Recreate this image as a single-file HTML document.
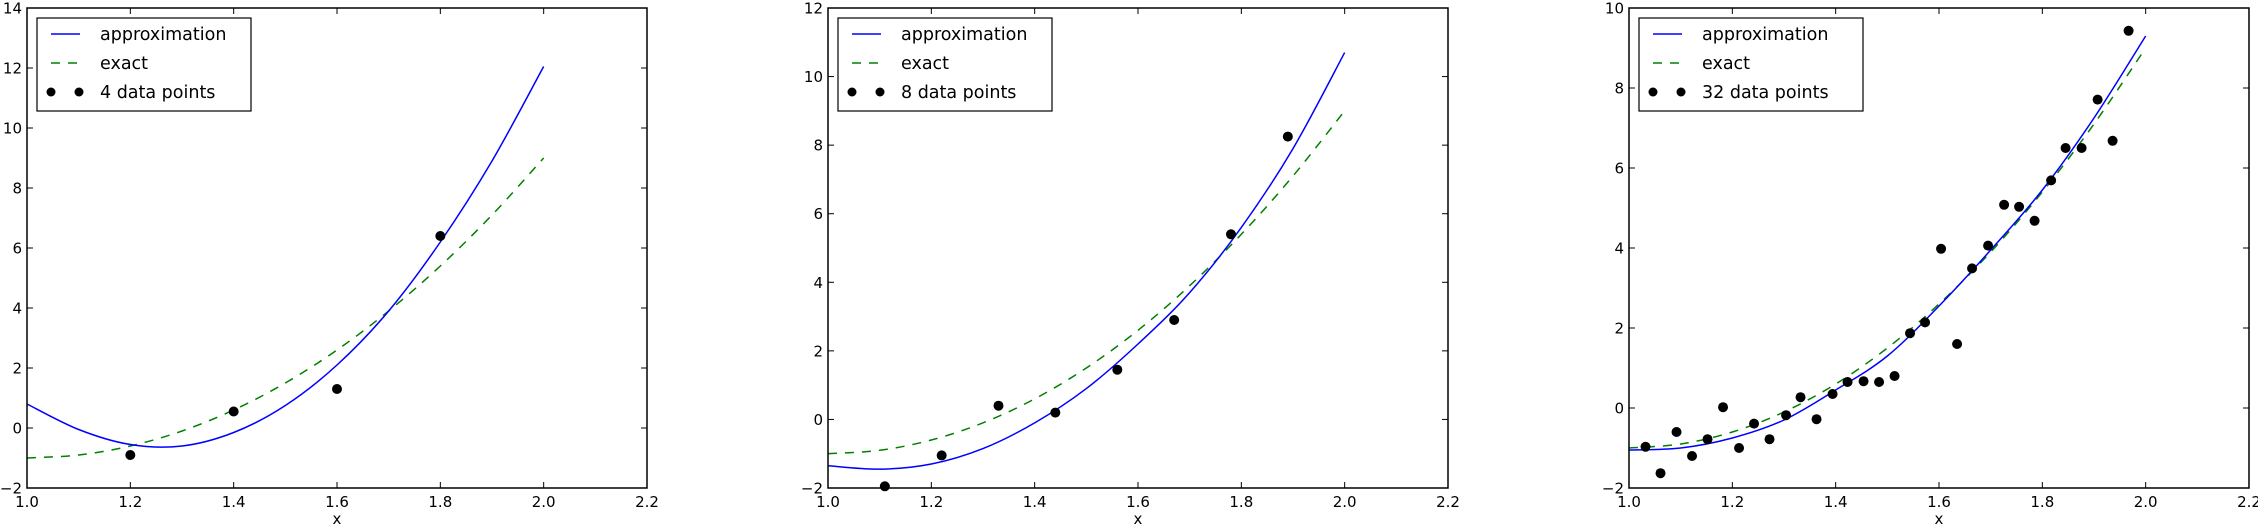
<!DOCTYPE html>
<html><head><meta charset="utf-8"><style>
html,body{margin:0;padding:0;background:#fff;}
svg{display:block;font-family:"DejaVu Sans","Liberation Sans",sans-serif;}
</style></head><body>
<svg id="chart" width="2258" height="528" xmlns="http://www.w3.org/2000/svg"></svg>
<script>
const curveX = [1.0,1.1,1.2,1.3,1.4,1.5,1.6,1.7,1.8,1.9,2.0];
const exactY = [-1,-0.9,-0.6,-0.1,0.6,1.5,2.6,3.9,5.4,7.1,9.0];
const approx1 = [0.8,-0.05,-0.55,-0.6,-0.15,0.75,2.1,3.9,6.2,8.9,12.05];
const approx2 = [-1.35,-1.45,-1.3,-0.85,-0.1,0.9,2.2,3.7,5.6,7.9,10.7];
const approx3 = [-1.05,-1.0,-0.75,-0.3,0.45,1.3,2.55,3.95,5.45,7.25,9.3];
const pts1X = [1.2,1.4,1.6,1.8];
const pts1Y = [-0.9,0.55,1.3,6.4];
const pts2X = [1.11,1.22,1.33,1.44,1.56,1.67,1.78,1.89];
const pts2Y = [-1.95,-1.05,0.4,0.2,1.45,2.9,5.4,8.25];
const pts3X = [1.032,1.061,1.092,1.122,1.152,1.182,1.213,1.242,1.272,1.304,1.332,1.363,1.394,1.423,1.454,1.484,1.514,1.544,1.573,1.604,1.635,1.664,1.695,1.726,1.755,1.785,1.817,1.845,1.876,1.907,1.936,1.967];
const pts3Y = [-0.97,-1.63,-0.6,-1.2,-0.78,0.02,-1.0,-0.39,-0.78,-0.18,0.27,-0.28,0.35,0.65,0.67,0.65,0.8,1.87,2.14,3.98,1.6,3.49,4.06,5.08,5.03,4.68,5.69,6.5,6.5,7.71,6.68,9.43];
const xTicks = [1.0,1.2,1.4,1.6,1.8,2.0,2.2];
const yTicks1 = [-2,0,2,4,6,8,10,12,14];
const yTicks2 = [-2,0,2,4,6,8,10,12];
const yTicks3 = [-2,0,2,4,6,8,10];

const NS="http://www.w3.org/2000/svg";
const svg=document.getElementById('chart');
function mk(tag,attrs,parent){const e=document.createElementNS(NS,tag);for(const k in attrs)e.setAttribute(k,attrs[k]);(parent||svg).appendChild(e);return e;}
function smooth(p){let d='M'+p[0][0]+','+p[0][1];for(let i=0;i<p.length-1;i++){const p0=p[i-1]||p[i],p1=p[i],p2=p[i+1],p3=p[i+2]||p2;
const c1x=p1[0]+(p2[0]-p0[0])/6,c1y=p1[1]+(p2[1]-p0[1])/6,c2x=p2[0]-(p3[0]-p1[0])/6,c2y=p2[1]-(p3[1]-p1[1])/6;
d+=' C'+c1x+','+c1y+' '+c2x+','+c2y+' '+p2[0]+','+p2[1];}return d;}

const panels=[
 {left:27,ymin:-2,ymax:14,yt:yTicks1,ap:approx1,px:pts1X,py:pts1Y,label:'4 data points',lw:214},
 {left:828,ymin:-2,ymax:12,yt:yTicks2,ap:approx2,px:pts2X,py:pts2Y,label:'8 data points',lw:214},
 {left:1629,ymin:-2,ymax:10,yt:yTicks3,ap:approx3,px:pts3X,py:pts3Y,label:'32 data points',lw:224}
];
const W=620,TOP=8,H=480;
panels.forEach((P,pi)=>{
 const g=mk('g',{});
 
 
 const sx=v=>P.left+(v-1.0)/1.2*W;
 const sy=v=>TOP+(P.ymax-v)/(P.ymax-P.ymin)*H;
 const ex=mk('path',{d:smooth(curveX.map((x,i)=>[sx(x),sy(exactY[i])])),fill:'none',stroke:'#008000','stroke-width':1.5,'stroke-dasharray':'9,8'},g);
 
 
 const ap=mk('path',{d:smooth(curveX.map((x,i)=>[sx(x),sy(P.ap[i])])),fill:'none',stroke:'#0000ff','stroke-width':1.5},g);
 
 
 P.px.forEach((x,i)=>{
  const c=mk('circle',{cx:sx(x),cy:sy(P.py[i]),r:5,fill:'#000'},g);
  
  
 });
 const fr=mk('rect',{x:P.left,y:TOP,width:W,height:H,fill:'none',stroke:'#000','stroke-width':1.5},g);
 
 
 xTicks.forEach(t=>{
  const x=sx(t);
  mk('line',{x1:x,x2:x,y1:TOP+H,y2:TOP+H-6,stroke:'#000','stroke-width':1},g);
  mk('line',{x1:x,x2:x,y1:TOP,y2:TOP+6,stroke:'#000','stroke-width':1},g);
  const tx=mk('text',{x:x,y:TOP+H+19,'text-anchor':'middle','font-size':15},g);
  tx.textContent=t.toFixed(1);
  
  
 });
 P.yt.forEach(t=>{
  const y=sy(t);
  mk('line',{x1:P.left,x2:P.left+6,y1:y,y2:y,stroke:'#000','stroke-width':1},g);
  mk('line',{x1:P.left+W,x2:P.left+W-6,y1:y,y2:y,stroke:'#000','stroke-width':1},g);
  const ty=mk('text',{x:P.left-5,y:y+5.5,'text-anchor':'end','font-size':15},g);
  ty.textContent=t<0?'\u2212'+Math.abs(t):String(t);
  
  
 });
 const xl=mk('text',{x:P.left+W/2,y:524,'text-anchor':'middle','font-size':15},g);
 xl.textContent='x';
 
 
 const lg=mk('g',{},g);
 
 
 const lx=P.left+10,ly=18;
 mk('rect',{x:lx,y:ly,width:P.lw,height:93,fill:'#fff',stroke:'#000','stroke-width':1.2},lg);
 const rows=[['approximation',34],['exact',63],[P.label,92]];
 mk('line',{x1:lx+14,x2:lx+43,y1:34,y2:34,stroke:'#0000ff','stroke-width':1.5},lg);
 mk('line',{x1:lx+14,x2:lx+43,y1:63,y2:63,stroke:'#008000','stroke-width':1.5,'stroke-dasharray':'9,8'},lg);
 mk('circle',{cx:lx+14,cy:92,r:4.5,fill:'#000'},lg);
 mk('circle',{cx:lx+42,cy:92,r:4.5,fill:'#000'},lg);
 rows.forEach(r=>{
  const t=mk('text',{x:lx+63,y:r[1]+6,'font-size':17.5},lg);
  t.textContent=r[0];
  
  
 });
});
</script>
</body></html>
